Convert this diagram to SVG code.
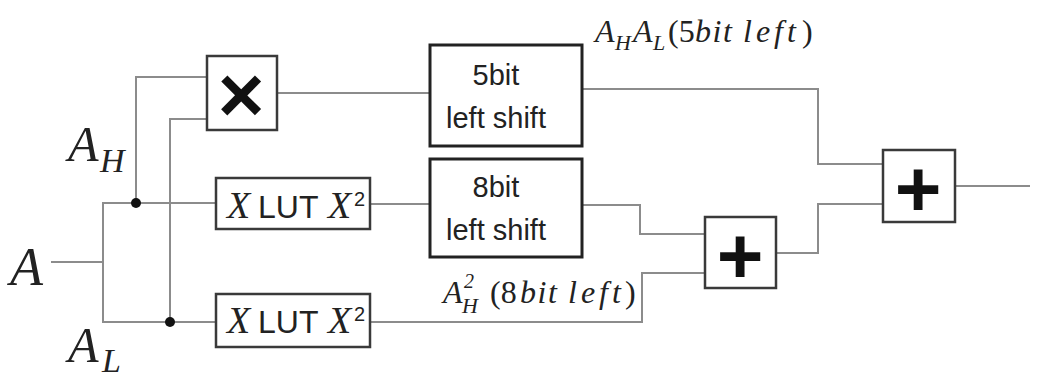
<svg xmlns="http://www.w3.org/2000/svg" width="1038" height="383" viewBox="0 0 1038 383">
<style>
.wire{fill:none;stroke:#8c8c8c;stroke-width:2}
.box{fill:#fff;stroke:#3a3a3a;stroke-width:2.5}
.sbox{fill:#fff;stroke:#222;stroke-width:3}
.math{font-family:"Liberation Serif",serif;font-style:italic;fill:#222}
.up{font-style:normal}
.sans{font-family:"Liberation Sans",Arial,sans-serif;fill:#222}
.op{font-family:"Liberation Sans",Arial,sans-serif;font-weight:bold;fill:#111;text-anchor:middle}
.dot{fill:#111}
</style>
<rect width="1038" height="383" fill="#fff"/>
<g id="connectors">
<path class="wire" d="M51,262 H103"/>
<path class="wire" d="M216,203 H103 V322 H216"/>
<path class="wire" d="M136,203 V77 H207"/>
<path class="wire" d="M170,322 V119 H207"/>
<path class="wire" d="M277,93 H430"/>
<path class="wire" d="M370,204 H430"/>
<path class="wire" d="M582,89 H818 V164 H883"/>
<path class="wire" d="M582,205 H640 V234 H705"/>
<path class="wire" d="M370,322 H642 V273 H705"/>
<path class="wire" d="M776,253 H818 V204 H883"/>
<path class="wire" d="M955,186 H1030"/>
<circle class="dot" cx="136" cy="203" r="5"/>
<circle class="dot" cx="170" cy="322" r="5"/>
</g>
<g id="labels">
<text class="math" font-size="54" x="10" y="285">A</text>
<text class="math" font-size="50"><tspan x="68" y="161">A</tspan><tspan font-size="34" x="100" y="172">H</tspan></text>
<text class="math" font-size="50"><tspan x="68" y="362">A</tspan><tspan font-size="34" x="102" y="372">L</tspan></text>
<text class="math" font-size="32"><tspan x="595" y="42">A</tspan><tspan font-size="22" x="615" y="50">H</tspan><tspan x="633" y="42">A</tspan><tspan font-size="22" x="653" y="50">L</tspan><tspan class="up" x="668" y="42">(5</tspan><tspan x="695" y="42" letter-spacing="1.5">bit</tspan><tspan x="743" y="42" letter-spacing="4">left</tspan><tspan class="up" x="802" y="42">)</tspan></text>
<text class="math" font-size="32"><tspan x="443" y="303">A</tspan><tspan font-size="20" x="464" y="288">2</tspan><tspan font-size="22" x="462" y="313">H</tspan><tspan class="up" x="490" y="303">(8</tspan><tspan x="520" y="303" letter-spacing="1.5">bit</tspan><tspan x="568" y="303" letter-spacing="4">left</tspan><tspan class="up" x="625" y="303">)</tspan></text>
</g>
<g id="mul">
<rect class="box" x="207" y="56" width="70" height="74"/>
<text class="op" x="241" y="122" font-size="80">×</text>
</g>
<g id="lut1">
<rect class="box" x="216" y="178" width="154" height="51"/>
<text font-size="32"><tspan class="math" font-size="38" x="227" y="218">X</tspan><tspan class="sans" x="258" y="218">LUT</tspan><tspan class="math" font-size="38" x="328" y="218">X</tspan><tspan class="sans" font-size="20" x="354" y="206">2</tspan></text>
</g>
<g id="lut2">
<rect class="box" x="216" y="294" width="154" height="53"/>
<text font-size="32"><tspan class="math" font-size="38" x="227" y="333">X</tspan><tspan class="sans" x="258" y="333">LUT</tspan><tspan class="math" font-size="38" x="328" y="333">X</tspan><tspan class="sans" font-size="20" x="354" y="321">2</tspan></text>
</g>
<g id="shift5">
<rect class="sbox" x="430" y="45" width="152" height="101"/>
<text class="sans" font-size="29" text-anchor="middle"><tspan x="496" y="85">5bit</tspan><tspan x="496" y="128">left shift</tspan></text>
</g>
<g id="shift8">
<rect class="sbox" x="430" y="159" width="152" height="98"/>
<text class="sans" font-size="29" text-anchor="middle"><tspan x="496" y="197">8bit</tspan><tspan x="496" y="240">left shift</tspan></text>
</g>
<g id="add1">
<rect class="box" x="705" y="217" width="71" height="71"/>
<text class="op" x="740" y="283" font-size="80">+</text>
</g>
<g id="add2">
<rect class="box" x="883" y="150" width="72" height="72"/>
<text class="op" x="918" y="216" font-size="80">+</text>
</g>
</svg>
